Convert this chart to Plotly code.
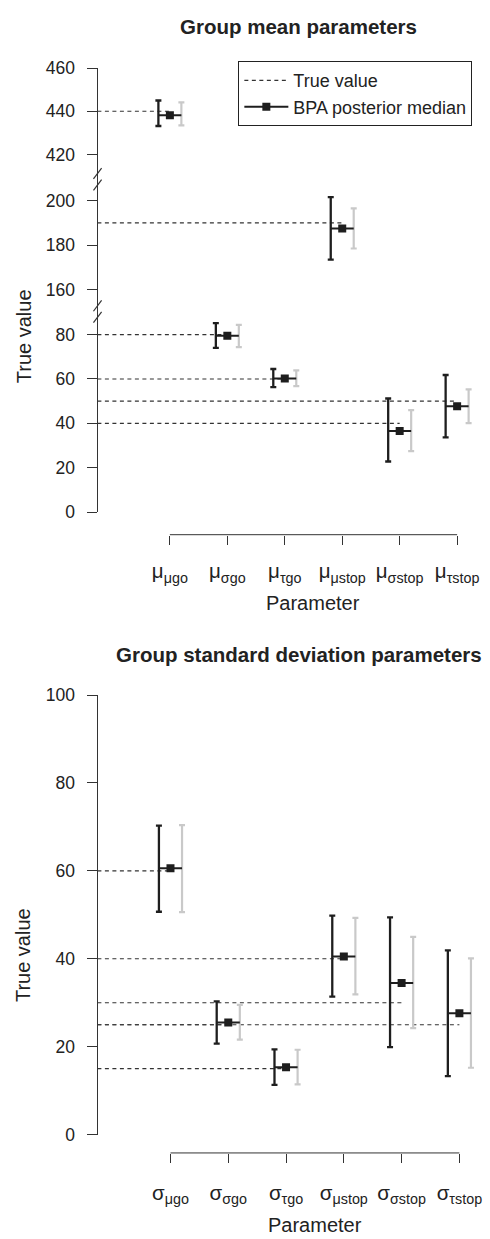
import plotly.graph_objects as go

# ---------------------------------------------------------------- data
mean_labels = ["μ<sub>μgo</sub>", "μ<sub>σgo</sub>", "μ<sub>τgo</sub>",
               "μ<sub>μstop</sub>", "μ<sub>σstop</sub>", "μ<sub>τstop</sub>"]
mean_true = [440, 80, 60, 190, 40, 50]
mean_median = [438.2, 79.5, 60.2, 187.5, 36.6, 47.7]
mean_bpa_lo = [433.2, 74.0, 56.3, 173.5, 22.8, 33.7]
mean_bpa_hi = [445.0, 85.2, 64.5, 201.6, 51.2, 61.8]
mean_alt_lo = [433.5, 74.4, 56.8, 178.5, 27.5, 40.1]
mean_alt_hi = [444.1, 84.4, 63.9, 196.5, 46.0, 55.3]

sd_labels = ["σ<sub>μgo</sub>", "σ<sub>σgo</sub>", "σ<sub>τgo</sub>",
             "σ<sub>μstop</sub>", "σ<sub>σstop</sub>", "σ<sub>τstop</sub>"]
sd_true = [60, 25, 15, 40, 30, 25]
sd_median = [60.6, 25.5, 15.3, 40.5, 34.5, 27.6]
sd_bpa_lo = [50.7, 20.7, 11.3, 31.4, 19.9, 13.3]
sd_bpa_hi = [70.3, 30.3, 19.4, 49.8, 49.4, 41.9]
sd_alt_lo = [50.6, 21.6, 11.4, 31.9, 24.2, 15.2]
sd_alt_hi = [70.4, 29.5, 19.3, 49.3, 45.0, 40.1]

# ---------------------------------------------------------------- layout helpers
W, H = 490, 1239
FONT = "Liberation Sans, Arial, Helvetica, sans-serif"
INK = "#222222"
DARK = "#1e1e1e"
GREY = "#c9c9c9"
OFFSET = 0.2


def px(x):
    return x / W


def py(y):
    return 1 - y / H


positions = list(range(1, 7))

# broken y axis of the upper panel: (axis name, value range, pixel top, pixel bottom, ticks)
segments = [
    ("y", (0, 90.4), 306.5, 510.3, [0, 20, 40, 60, 80]),
    ("y2", (150.2, 209.6), 172.0, 306.5, [160, 180, 200]),
    ("y3", (408.6, 460.001), 59.0, 172.0, [420, 440, 460]),
]

fig = go.Figure()


def add_panel(xname, yname, xmin, idx, true, med, blo, bhi, alo, ahi, legend):
    ids = list(idx)
    # dashed true-value lines from the y axis to each parameter
    tx, ty = [], []
    for i in ids:
        tx += [xmin, positions[i], None]
        ty += [true[i], true[i], None]
    fig.add_trace(go.Scatter(
        x=tx, y=ty, mode="lines", xaxis=xname, yaxis=yname,
        line=dict(color="#333333", width=1.1, dash="4px,3.5px"),
        name="True value", showlegend=legend, legendrank=1, hoverinfo="skip"))
    # grey intervals (right of the median)
    gx = [positions[i] + OFFSET for i in ids]
    gm = [(alo[i] + ahi[i]) / 2 for i in ids]
    gh = [(ahi[i] - alo[i]) / 2 for i in ids]
    fig.add_trace(go.Scatter(
        x=gx, y=gm, mode="markers", xaxis=xname, yaxis=yname,
        marker=dict(color="rgba(0,0,0,0)", size=1),
        error_y=dict(type="data", array=gh, symmetric=True, color=GREY, thickness=2.2, width=3),
        showlegend=False, hoverinfo="skip"))
    # dark BPA credible intervals (left of the median)
    dx = [positions[i] - OFFSET for i in ids]
    dm = [med[i] for i in ids]
    fig.add_trace(go.Scatter(
        x=dx, y=dm, mode="markers", xaxis=xname, yaxis=yname,
        marker=dict(color="rgba(0,0,0,0)", size=1),
        error_y=dict(type="data", symmetric=False,
                     array=[bhi[i] - med[i] for i in ids],
                     arrayminus=[med[i] - blo[i] for i in ids],
                     color=DARK, thickness=2.3, width=3),
        showlegend=False, hoverinfo="skip"))
    # posterior medians (isolated points so no connecting line is drawn)
    mx, my = [], []
    for i in ids:
        mx += [positions[i], None]
        my += [med[i], None]
    fig.add_trace(go.Scatter(
        x=mx, y=my, mode="lines+markers", xaxis=xname, yaxis=yname,
        line=dict(color=DARK, width=2),
        marker=dict(symbol="square", size=8, color=DARK),
        error_x=dict(type="constant", value=OFFSET, color=DARK, thickness=2, width=0),
        name="BPA posterior median", showlegend=legend, legendrank=2, hoverinfo="skip"))


# ---------------------------------------------------------------- upper panel
top_xmin, top_xmax = -0.262, 6.296
first = True
for yname, (lo, hi), _, _, _ in segments:
    idx = [i for i in range(6) if lo <= mean_median[i] <= hi]
    add_panel("x", yname, top_xmin, idx, mean_true, mean_median,
              mean_bpa_lo, mean_bpa_hi, mean_alt_lo, mean_alt_hi, first)
    first = False

# ---------------------------------------------------------------- lower panel
bot_xmin, bot_xmax = -0.265, 6.255
add_panel("x2", "y4", bot_xmin, range(6), sd_true, sd_median,
          sd_bpa_lo, sd_bpa_hi, sd_alt_lo, sd_alt_hi, False)

# ---------------------------------------------------------------- axes
tickfont = dict(family=FONT, size=17.5, color=INK)
xcommon = dict(domain=[px(99), px(482)], anchor="free", showline=False, showgrid=False,
               zeroline=False, ticks="outside", ticklen=9, tickwidth=1, tickcolor="#333333",
               tickvals=positions, tickfont=dict(family=FONT, size=20.5, color=INK),
               ticklabelstandoff=9)
ycommon = dict(anchor="free", position=px(99), showline=True, linecolor="#333333", linewidth=1,
               showgrid=False, zeroline=False, ticks="outside", ticklen=10, tickwidth=1,
               tickcolor="#333333", tickfont=tickfont, ticklabelstandoff=9)

layout = dict(
    width=W, height=H, margin=dict(l=0, r=0, t=0, b=0),
    paper_bgcolor="white", plot_bgcolor="white",
    font=dict(family=FONT, color=INK),
    xaxis=dict(xcommon, range=[top_xmin, top_xmax], ticktext=mean_labels, position=py(533.3)),
    xaxis2=dict(xcommon, range=[bot_xmin, bot_xmax], ticktext=sd_labels, position=py(1161.7),
                ticklabelstandoff=12),
    yaxis4=dict(ycommon, domain=[py(1143), py(696.3)], range=[0, 100.001],
                tickvals=[0, 20, 40, 60, 80, 100]),
    legend=dict(x=px(242.3), y=py(52), xanchor="left", yanchor="top", itemwidth=44,
                bordercolor="#222222", borderwidth=1, bgcolor="white",
                font=dict(family=FONT, size=18, color=INK), traceorder="normal"),
    showlegend=True,
)
for k, (yname, (lo, hi), ptop, pbot, ticks) in enumerate(segments):
    key = "yaxis" if k == 0 else f"yaxis{k + 1}"
    layout[key] = dict(ycommon, domain=[py(pbot), py(ptop)], range=[lo, hi], tickvals=ticks)
fig.update_layout(**layout)

# x axis lines span from the first to the last parameter only
shapes = []
for xref, ypix in (("x", 533.3), ("x2", 1161.7)):
    shapes.append(dict(type="line", xref=xref, yref="paper", x0=positions[0], x1=positions[-1],
                       y0=py(ypix), y1=py(ypix), line=dict(color="#333333", width=1)))
# double-slash marks at the axis breaks
for k in range(1, len(segments)):
    b = segments[k][3]
    for dy in (-5.8, 5.8):
        yc = b + dy
        shapes.append(dict(type="line", xref="paper", yref="paper",
                           x0=px(95), y0=py(yc + 5.5), x1=px(103.3), y1=py(yc - 5.5),
                           line=dict(color="#333333", width=1.2)))
fig.update_layout(shapes=shapes)

# titles
ann = []
title_font = dict(family=FONT, size=20.5, color=INK)
lab_font = dict(family=FONT, size=20, color=INK)
ann.append(dict(text="<b>Group mean parameters</b>", x=px(303), y=py(17), font=title_font))
ann.append(dict(text="<b>Group standard deviation parameters</b>", x=px(304), y=py(655), font=title_font))
ann.append(dict(text="Parameter", x=px(318.7), y=py(602.7), font=lab_font))
ann.append(dict(text="Parameter", x=px(320), y=py(1227), font=lab_font, yshift=-8))
ann.append(dict(text="True value", x=px(24), y=py(332), textangle=-90, font=lab_font))
ann.append(dict(text="True value", x=px(24), y=py(961), textangle=-90, font=lab_font))
for a in ann:
    a.update(xref="paper", yref="paper", showarrow=False, xanchor="center", yanchor="middle")
fig.update_layout(annotations=ann)

fig.write_html("out.html")
